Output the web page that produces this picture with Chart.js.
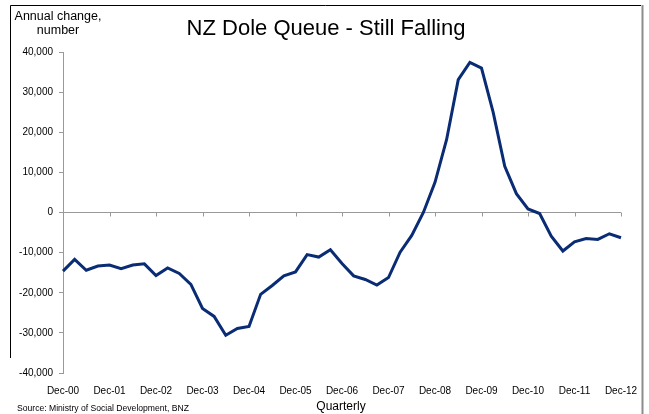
<!DOCTYPE html>
<html>
<head>
<meta charset="utf-8">
<script src="https://cdn.jsdelivr.net/npm/chart.js@4.4.1/dist/chart.umd.min.js"></script>
<style>
  html, body { margin: 0; padding: 0; background: #fff; }
  #wrap { width: 649px; height: 414px; }
</style>
</head>
<body>
<div id="wrap"><canvas id="dole-chart" width="649" height="414"></canvas></div>
<script>
// Quarterly categories, Dec-00 to Dec-12
const quarters = [
  'Dec-00', 'Mar-01', 'Jun-01', 'Sep-01',
  'Dec-01', 'Mar-02', 'Jun-02', 'Sep-02',
  'Dec-02', 'Mar-03', 'Jun-03', 'Sep-03',
  'Dec-03', 'Mar-04', 'Jun-04', 'Sep-04',
  'Dec-04', 'Mar-05', 'Jun-05', 'Sep-05',
  'Dec-05', 'Mar-06', 'Jun-06', 'Sep-06',
  'Dec-06', 'Mar-07', 'Jun-07', 'Sep-07',
  'Dec-07', 'Mar-08', 'Jun-08', 'Sep-08',
  'Dec-08', 'Mar-09', 'Jun-09', 'Sep-09',
  'Dec-09', 'Mar-10', 'Jun-10', 'Sep-10',
  'Dec-10', 'Mar-11', 'Jun-11', 'Sep-11',
  'Dec-11', 'Mar-12', 'Jun-12', 'Sep-12',
  'Dec-12'
];

// Annual change in number of people on the unemployment benefit
const annualChange = [
  -14600, -11700, -14400, -13350,
  -13100, -14000, -13100, -12800,
  -15700, -13800, -15200, -17900,
  -23900, -25900, -30600, -28900,
  -28400, -20400, -18200, -15800,
  -14800, -10500, -11100, -9300,
  -12700, -15800, -16700, -18100,
  -16200, -9900, -5700, 0,
  7500, 18200, 33100, 37400,
  36000, 25000, 11500, 4700,
  900, -250, -5900, -9600,
  -7300, -6500, -6700, -5300,
  -6300
];

const yMin = -40000;
const yMax = 40000;
const yStep = 10000;

const FONT = "'Liberation Sans', Arial, sans-serif";

// frame, headings and the tick marks on the zero line
const decorations = {
  id: 'decorations',
  beforeDraw(chart) {
    const c = chart.ctx;
    c.save();
    c.fillStyle = '#fff';
    c.fillRect(0, 0, chart.width, chart.height);
    c.strokeStyle = '#000';
    c.lineWidth = 1;
    c.beginPath();
    c.moveTo(10.5, 358);
    c.lineTo(10.5, 5.5);
    c.lineTo(641, 5.5);
    c.stroke();
    c.strokeStyle = '#8c8c8c';
    c.lineWidth = 2;
    c.beginPath();
    c.moveTo(642.5, 5);
    c.lineTo(642.5, chart.height);
    c.stroke();
    c.restore();
  },
  beforeDatasetsDraw(chart) {
    const c = chart.ctx;
    const x = chart.scales.x;
    const y0 = chart.scales.y.getPixelForValue(0);
    c.save();
    c.strokeStyle = '#999';
    c.lineWidth = 1;
    c.beginPath();
    for (let i = 0; i < quarters.length; i += 4) {
      const px = Math.round(x.getPixelForValue(i)) + 0.5;
      c.moveTo(px, y0);
      c.lineTo(px, y0 + 4);
    }
    c.stroke();
    c.restore();
  },
  afterDraw(chart) {
    const c = chart.ctx;
    c.save();
    c.fillStyle = '#000';
    c.textAlign = 'center';
    c.textBaseline = 'alphabetic';
    c.font = '22px ' + FONT;
    c.fillText('NZ Dole Queue - Still Falling', 326, 35);
    c.font = '12.5px ' + FONT;
    c.fillText('Annual change,', 58, 20);
    c.fillText('number', 58, 34);
    c.font = '12px ' + FONT;
    c.fillText('Quarterly', 341, 410);
    c.textAlign = 'left';
    c.font = '8.6px ' + FONT;
    c.fillText('Source: Ministry of Social Development, BNZ', 17, 411);
    c.restore();
  }
};

const ctx = document.getElementById('dole-chart').getContext('2d');

const doleChart = new Chart(ctx, {
  type: 'line',
  data: {
    labels: quarters,
    datasets: [{
      label: 'Annual change',
      data: annualChange,
      borderColor: '#0a2c74',
      borderWidth: 3,
      pointRadius: 0,
      tension: 0,
      fill: false,
    }],
  },
  options: {
    responsive: false,
    animation: false,
    layout: {
      padding: { top: 52, right: 28, bottom: 0, left: 0 },
    },
    plugins: {
      legend: { display: false },
      tooltip: { enabled: false },
    },
    scales: {
      x: {
        offset: false,
        grid: { display: false },
        border: { display: false },
        ticks: {
          autoSkip: false,
          maxRotation: 0,
          padding: 4,
          color: '#000',
          font: { family: FONT, size: 10 },
          callback: function (value, index) {
            return index % 4 === 0 ? quarters[index] : '';
          },
        },
        afterFit(scale) { scale.height = 41; },
      },
      y: {
        min: yMin,
        max: yMax,
        border: { display: true, color: '#999', width: 1 },
        grid: {
          color: (c) => (c.tick && c.tick.value === 0 ? '#999' : 'rgba(0,0,0,0)'),
          tickColor: '#999',
          tickLength: 4,
        },
        ticks: {
          stepSize: yStep,
          padding: 6,
          color: '#000',
          font: { family: FONT, size: 10 },
          callback: (v) => v.toLocaleString('en-US'),
        },
        afterFit(scale) { scale.width = 63; },
      },
    },
  },
  plugins: [decorations],
});
</script>
</body>
</html>
